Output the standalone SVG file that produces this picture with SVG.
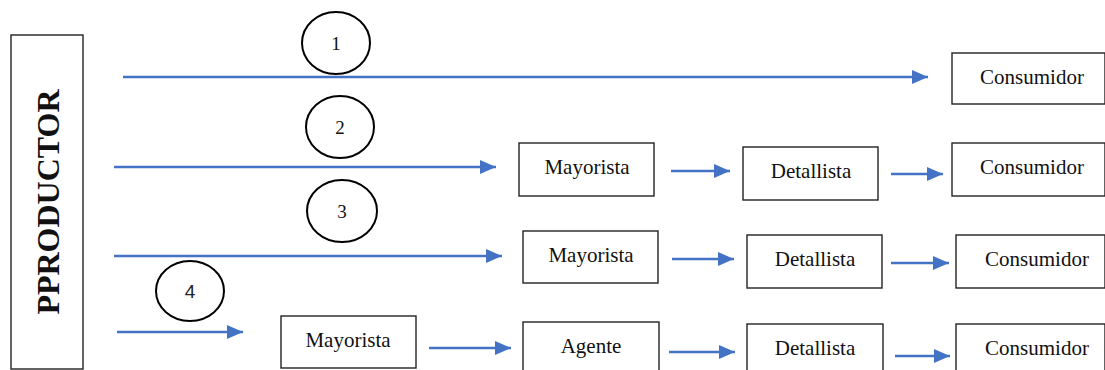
<svg xmlns="http://www.w3.org/2000/svg" width="1105" height="370" viewBox="0 0 1105 370">
<defs>
<marker id="ah" markerUnits="userSpaceOnUse" markerWidth="17" markerHeight="15" refX="16" refY="7" orient="auto"><path d="M0,0 L16,7 L0,14 z" fill="#4472C4"/></marker>
<style>
.box{fill:#fff;stroke:#222;stroke-width:1.4}
.lbl{font-family:"Liberation Serif","Times New Roman",serif;font-size:21px;fill:#111;text-anchor:middle}
.num{font-family:"Liberation Serif","Times New Roman",serif;font-size:19px;fill:#111;text-anchor:middle}
.circ{fill:#fff;stroke:#000;stroke-width:2}
.con{stroke:#4472C4;stroke-width:2.5;fill:none;marker-end:url(#ah)}
</style>
</defs>
<rect width="1105" height="370" fill="#fff"/>
<g id="productor"><rect class="box" x="11" y="35" width="72" height="334"/><text transform="translate(59,202) rotate(-90)" font-family="'Liberation Serif','Times New Roman',serif" font-weight="bold" font-size="32" text-anchor="middle" fill="#111">PPRODUCTOR</text></g>
<g id="c1"><ellipse class="circ" cx="336" cy="43" rx="34" ry="31"/><text class="num" x="336" y="50">1</text></g>
<g id="c2"><ellipse class="circ" cx="340" cy="127" rx="34" ry="31"/><text class="num" x="340" y="134">2</text></g>
<g id="c3"><ellipse class="circ" cx="342" cy="211" rx="35" ry="31"/><text class="num" x="342" y="218">3</text></g>
<g id="c4"><ellipse class="circ" cx="190" cy="291" rx="34" ry="30"/><text x="190" y="298" font-family="'Liberation Sans',Arial,sans-serif" font-size="19" text-anchor="middle" fill="#222">4</text></g>
<g id="r1-consumidor"><rect class="box" x="952" y="53" width="153" height="51"/><text class="lbl" x="1032" y="84">Consumidor</text></g>
<g id="r2-mayorista"><rect class="box" x="519" y="143" width="135" height="53"/><text class="lbl" x="587" y="174">Mayorista</text></g>
<g id="r2-detallista"><rect class="box" x="743" y="147" width="135" height="53"/><text class="lbl" x="811" y="178">Detallista</text></g>
<g id="r2-consumidor"><rect class="box" x="952" y="143" width="153" height="53"/><text class="lbl" x="1032" y="174">Consumidor</text></g>
<g id="r3-mayorista"><rect class="box" x="523" y="231" width="135" height="52"/><text class="lbl" x="591" y="262">Mayorista</text></g>
<g id="r3-detallista"><rect class="box" x="747" y="235" width="135" height="53"/><text class="lbl" x="815" y="266">Detallista</text></g>
<g id="r3-consumidor"><rect class="box" x="956" y="235" width="149" height="53"/><text class="lbl" x="1037" y="266">Consumidor</text></g>
<g id="r4-mayorista"><rect class="box" x="281" y="316" width="135" height="52"/><text class="lbl" x="348" y="347">Mayorista</text></g>
<g id="r4-agente"><rect class="box" x="523" y="322" width="136" height="60"/><text class="lbl" x="591" y="353">Agente</text></g>
<g id="r4-detallista"><rect class="box" x="747" y="324" width="136" height="60"/><text class="lbl" x="815" y="355">Detallista</text></g>
<g id="r4-consumidor"><rect class="box" x="956" y="324" width="149" height="60"/><text class="lbl" x="1037" y="355">Consumidor</text></g>
<g id="connectors">
<line class="con" x1="123" y1="77" x2="928" y2="77"/>
<line class="con" x1="114" y1="167" x2="496" y2="167"/>
<line class="con" x1="671" y1="171" x2="730" y2="171"/>
<line class="con" x1="891" y1="174" x2="943" y2="174"/>
<line class="con" x1="114" y1="256" x2="502" y2="256"/>
<line class="con" x1="672" y1="259" x2="734" y2="259"/>
<line class="con" x1="891" y1="263" x2="949" y2="263"/>
<line class="con" x1="117" y1="332" x2="243" y2="332"/>
<line class="con" x1="429" y1="348" x2="511" y2="348"/>
<line class="con" x1="669" y1="352" x2="735" y2="352"/>
<line class="con" x1="895" y1="356" x2="950" y2="356"/>
</g>
</svg>
